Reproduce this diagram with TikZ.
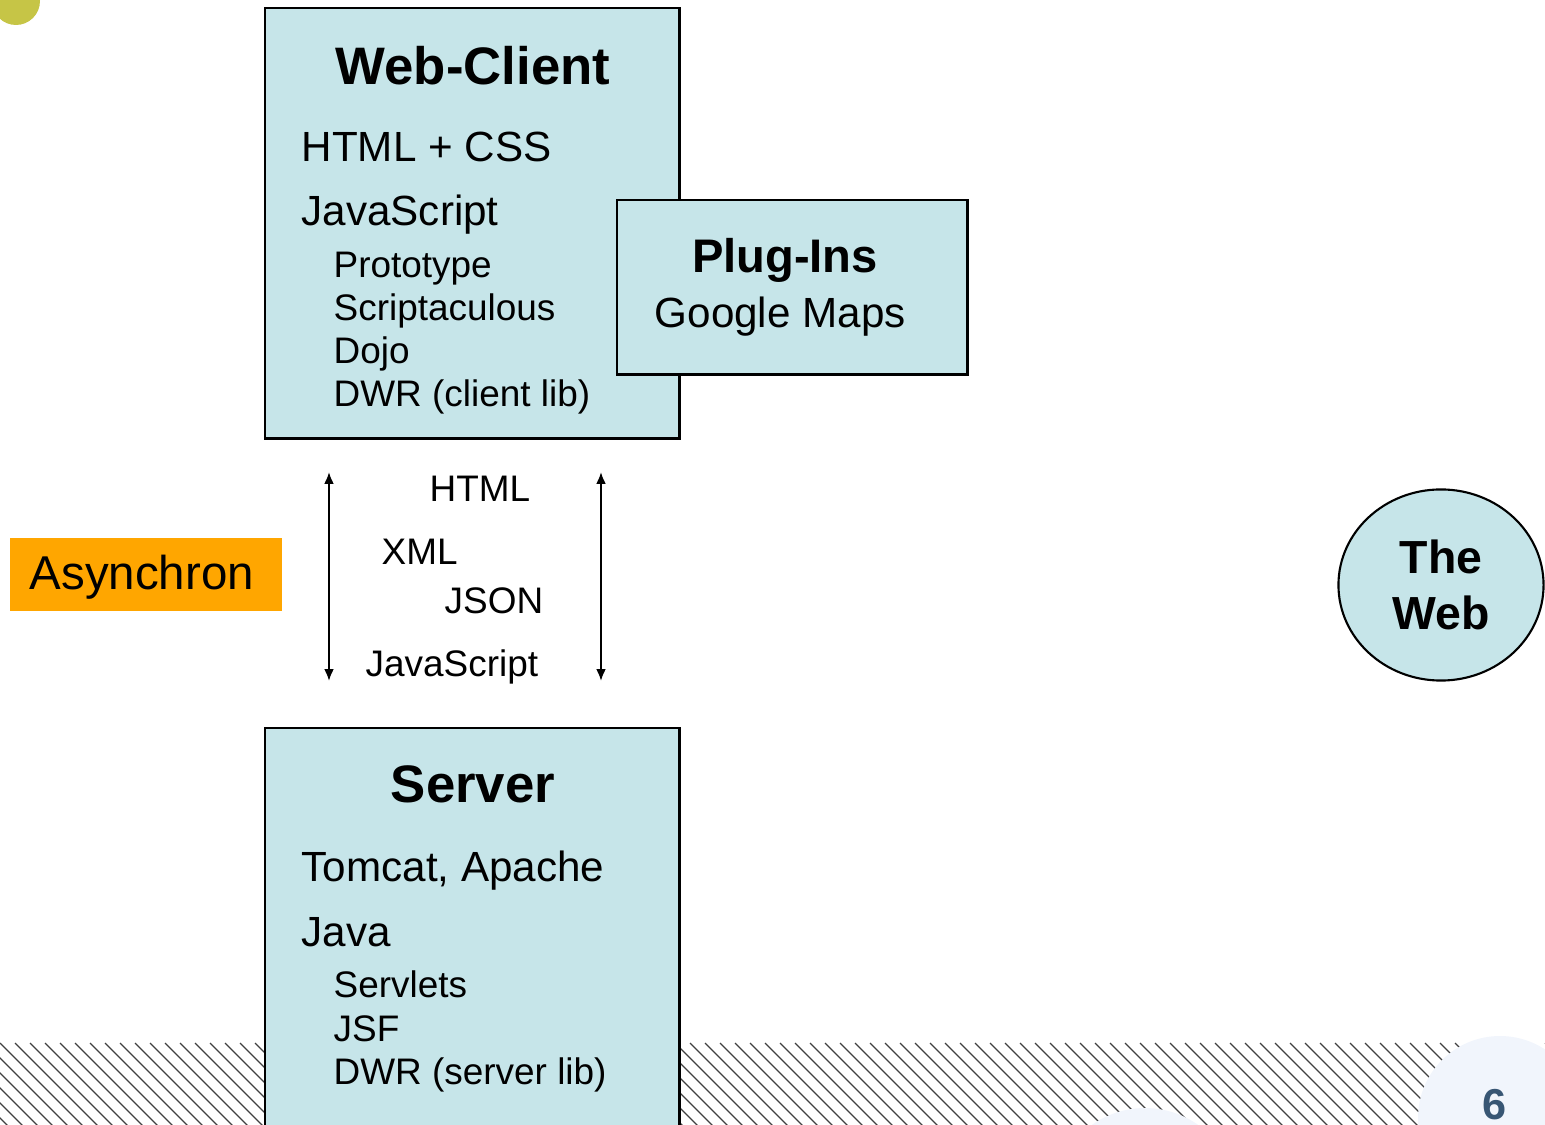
\documentclass[tikz,border=0pt]{standalone}
\usepackage{fontspec}
\setmainfont{Liberation Sans}
\usetikzlibrary{arrows.meta, shapes.geometric}

\definecolor{boxblue}{RGB}{198,229,233}
\definecolor{dotgreen}{RGB}{198,197,70}
\definecolor{asyncorange}{RGB}{255,166,0}
\definecolor{paleblue}{RGB}{241,245,252}
\definecolor{pagenum}{RGB}{56,86,116}

\begin{document}
\begin{tikzpicture}[x=0.01cm, y=-0.01cm,
    layer/.style={draw=black, line width=0.7pt, fill=boxblue, anchor=north west, inner sep=0pt},
    title/.style={font=\fontsize{15}{18}\selectfont\bfseries, anchor=base, inner sep=0pt},
    item/.style={font=\fontsize{12}{14}\selectfont, anchor=base west, inner sep=0pt},
    subitem/.style={font=\fontsize{10.5}{12}\selectfont, anchor=base west, inner sep=0pt},
    flow/.style={{Latex[length=3.4pt,width=2.8pt]}-{Latex[length=3.4pt,width=2.8pt]}, line width=0.55pt},
    hatchline/.style={draw=black!75, line width=0.35pt}]

    \useasboundingbox (0,0) rectangle (1545,1125);

    % Corner dot
    \fill[dotgreen] (16,1) circle (24);

    % Hatched strip at the bottom
    \foreach \hx in {-90,-75,...,1545}
        \draw[hatchline] (\hx,1043) -- ++(90,90);
    \fill[paleblue] (1500,1118) circle (82);
    \fill[paleblue] (1145,1200) circle (92);
    \node[font=\fontsize{12.3}{14}\selectfont\bfseries, text=pagenum, anchor=base, inner sep=0pt] (pagenr) at (1495,1119) {6};

    % Web-Client
    \node[layer, minimum width=4.14cm, minimum height=4.3cm] (client) at (264,7) {};
    \node[title] (clienttitle) at (473,85) {Web-Client};
    \node[item] (htmlcss) at (301,162) {HTML + CSS};
    \node[item] (clientjs) at (301,226) {JavaScript};
    \node[subitem] (prototype) at (333,278) {Prototype};
    \node[subitem] (scriptaculous) at (333,321) {Scriptaculous};
    \node[subitem] (dojo) at (333,364) {Dojo};
    \node[subitem] (dwrclient) at (333,407) {DWR (client lib)};

    % Plug-Ins
    \node[layer, minimum width=3.5cm, minimum height=1.74cm] (plugins) at (616,199) {};
    \node[font=\fontsize{13.4}{16}\selectfont\bfseries, anchor=base, inner sep=0pt] (pluginstitle) at (785,273) {Plug-Ins};
    \node[item] (gmaps) at (654,328) {Google Maps};

    % Asynchron label
    \node[fill=asyncorange, anchor=north west, minimum width=2.72cm, minimum height=0.73cm, inner sep=0pt] (async) at (9,537) {};
    \node[font=\fontsize{13.5}{16}\selectfont, anchor=base west, inner sep=0pt] (asynctext) at (29,590) {Asynchron};

    % Data formats between client and server
    \coordinate (leftup) at (329,472);
    \coordinate (leftdown) at (329,681);
    \coordinate (rightup) at (601,472);
    \coordinate (rightdown) at (601,681);
    \draw[flow] (leftup) -- (leftdown);
    \draw[flow] (rightup) -- (rightdown);
    \node[subitem] (fmthtml) at (429,502) {HTML};
    \node[subitem] (fmtxml) at (381,565) {XML};
    \node[subitem] (fmtjson) at (444,614) {JSON};
    \node[subitem] (fmtjs) at (365,677) {JavaScript};

    % Server
    \node[layer, minimum width=4.14cm, minimum height=4.2cm] (server) at (264,727) {};
    \node[title] (servertitle) at (473,803) {Server};
    \node[item] (tomcat) at (301,882) {Tomcat, Apache};
    \node[item] (java) at (301,946) {Java};
    \node[subitem] (servlets) at (333,998) {Servlets};
    \node[subitem] (jsf) at (333,1041) {JSF};
    \node[subitem] (dwrserver) at (333,1084) {DWR (server lib)};

    % The Web
    \node[ellipse, draw=black, line width=0.6pt, fill=boxblue, minimum width=2.05cm, minimum height=1.91cm, inner sep=0pt, align=center,
          font=\fontsize{13.2}{16}\selectfont\bfseries] (web) at (1441,585) {The\\Web};
\end{tikzpicture}
\end{document}
